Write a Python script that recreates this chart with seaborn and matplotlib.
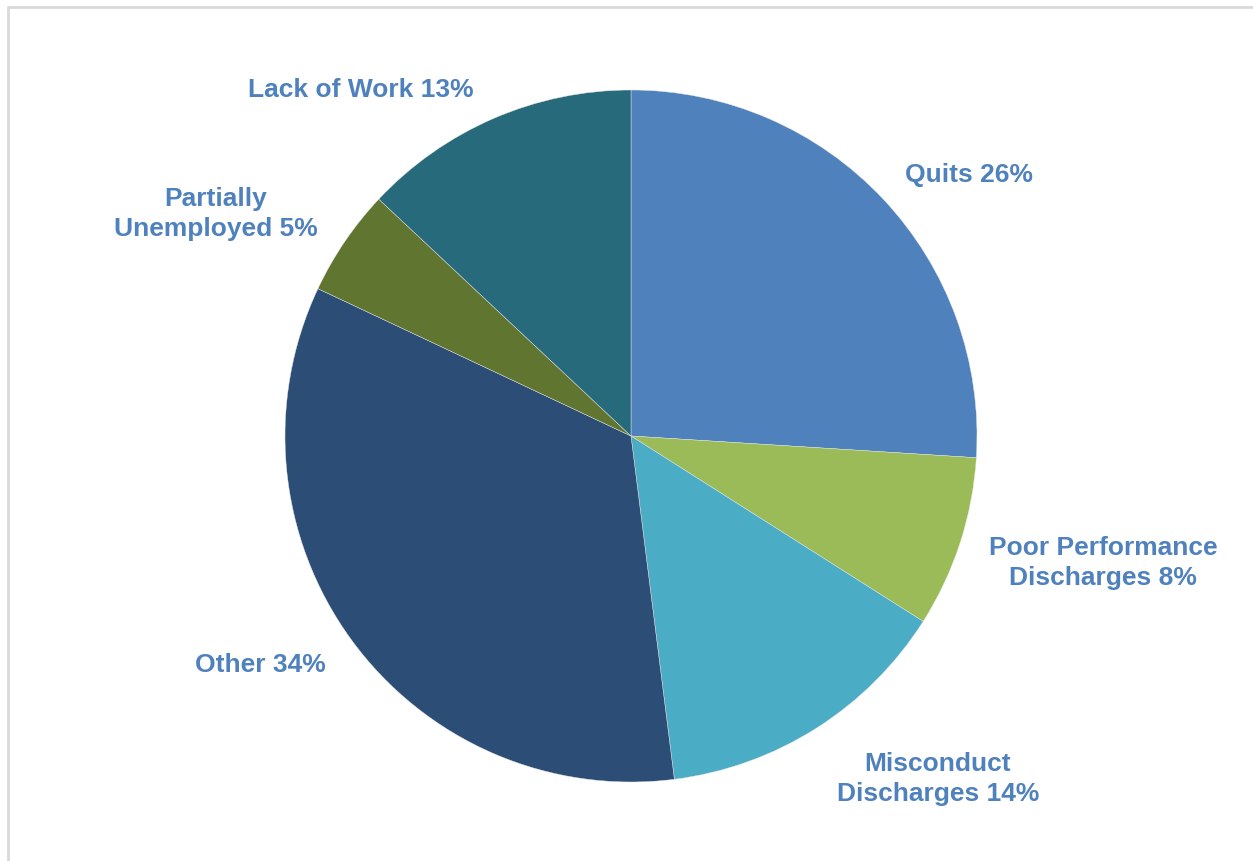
import matplotlib
matplotlib.use("Agg")
import matplotlib.pyplot as plt
import seaborn as sns
from matplotlib.lines import Line2D

categories = ["Quits", "Poor Performance\nDischarges", "Misconduct\nDischarges",
              "Other", "Partially\nUnemployed", "Lack of Work"]
values = [26, 8, 14, 34, 5, 13]
colors = ["#4F81BD", "#9BBB59", "#4BACC6", "#2C4D75", "#5F7530", "#276A7C"]

# label centre positions in pixels (layout)
label_px = [(969, 175), (1103, 563), (938, 779), (260, 665), (216, 214), (361, 90)]

sns.set_theme(style="white")
plt.rcParams['font.family'] = ['Liberation Sans', 'DejaVu Sans']

W, H = 1253, 862
cx, cy, R = 631, 437, 346
fig = plt.figure(figsize=(W / 100, H / 100), dpi=100)
ax = fig.add_axes([0, 0, 1, 1])
ax.pie(values, colors=colors, startangle=90, counterclock=False, radius=1,
       wedgeprops=dict(linewidth=0.3, edgecolor="#e8e8e8"))
ax.set_xlim(-cx / R, (W - cx) / R)
ax.set_ylim(-(H - cy) / R, cy / R)
ax.set_aspect("auto")
ax.axis("off")

for cat, v, (px, py) in zip(categories, values, label_px):
    ax.text((px - cx) / R, (cy - py) / R, f"{cat} {v}%", ha="center", va="center",
            fontsize=19, fontweight="bold", color="#4F81BD", linespacing=1.3)

# light frame
fig.add_artist(Line2D([7.5 / W, 7.5 / W], [0, 1 - 8 / H], color="#d9d9d9", lw=2,
                      transform=fig.transFigure))
fig.add_artist(Line2D([7.5 / W, 1], [1 - 8 / H, 1 - 8 / H], color="#d9d9d9", lw=2,
                      transform=fig.transFigure))

fig.savefig("out.png", dpi=100, facecolor="white")
